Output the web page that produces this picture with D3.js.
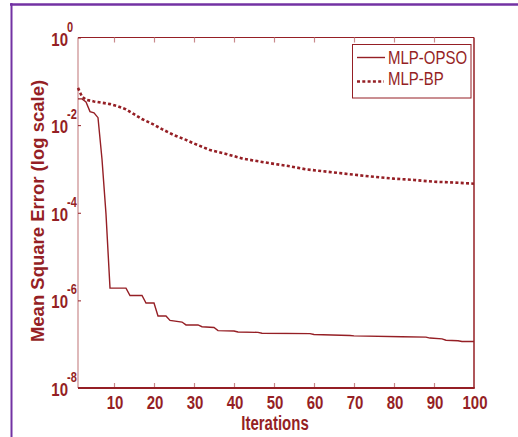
<!DOCTYPE html>
<html>
<head>
<meta charset="utf-8">
<script src="https://cdn.jsdelivr.net/npm/d3@7"></script>
<style>
  body { margin: 0; background: #fff; }
  svg { display: block; }
  text { font-family: "Liberation Sans", Arial, sans-serif; }
</style>
</head>
<body>
<svg id="chart" width="518" height="437"></svg>
<script>
// MLP-OPSO (solid)
var opsoIter = [1, 2, 3, 4, 5, 6, 7, 8, 9, 13, 14, 17, 18, 20, 21, 23, 24, 27, 28, 31, 32, 35, 36, 40,
    41, 46, 47, 59, 60, 69, 70, 82, 88, 89, 92, 93, 96, 97, 100];
var opsoMse = [0.0398, 0.0398, 0.0339, 0.0204, 0.0191, 0.0148, 1.66e-3, 9.3e-5, 1.9e-6, 1.9e-6,
    1.29e-6, 1.29e-6, 8.7e-7, 8.7e-7, 4.4e-7, 4.4e-7, 3.5e-7, 3.2e-7, 2.75e-7, 2.75e-7, 2.5e-7,
    2.4e-7, 2.04e-7, 2.0e-7, 1.9e-7, 1.86e-7, 1.78e-7, 1.74e-7, 1.66e-7, 1.58e-7, 1.55e-7,
    1.48e-7, 1.45e-7, 1.38e-7, 1.32e-7, 1.23e-7, 1.2e-7, 1.15e-7, 1.15e-7];

// MLP-BP (dotted)
var bpIter = [1, 2, 3, 5, 7, 9, 11, 13, 15, 17, 20, 22, 25, 28, 30, 34, 38, 42, 45, 49, 54, 58, 62,
    66, 70, 75, 80, 85, 90, 95, 100];
var bpMse = [0.0708, 0.0447, 0.038, 0.0347, 0.0324, 0.0302, 0.0269, 0.0229, 0.0178, 0.0138, 0.0102,
    8.1e-3, 5.9e-3, 4.6e-3, 3.8e-3, 2.7e-3, 2.2e-3, 1.74e-3, 1.55e-3, 1.35e-3, 1.15e-3, 9.8e-4,
    8.9e-4, 8.1e-4, 7.4e-4, 6.6e-4, 6.0e-4, 5.6e-4, 5.1e-4, 4.9e-4, 4.6e-4];

var xTicks = [10, 20, 30, 40, 50, 60, 70, 80, 90, 100];
var yTicks = [1, 1e-2, 1e-4, 1e-6, 1e-8];
var yTickExp = ["0", "-2", "-4", "-6", "-8"];
var seriesNames = ["MLP-OPSO", "MLP-BP"];

var dark = "#951f25";
var pink = "#c98a8c";
var purple = "#7332a3";

var svg = d3.select("#chart");

// purple frame
svg.append("line").attr("x1", 10).attr("x2", 518).attr("y1", 4.5).attr("y2", 4.5)
    .attr("stroke", purple).attr("stroke-width", 2.5);
svg.append("line").attr("x1", 11.5).attr("x2", 11.5).attr("y1", 3).attr("y2", 437)
    .attr("stroke", purple).attr("stroke-width", 2);

var x = d3.scaleLinear().domain([1, 100]).range([78, 474]);
var y = d3.scaleLog().domain([1e-8, 1]).range([388, 37.5]);

// axis box
svg.append("line").attr("x1", x(1)).attr("x2", x(100)).attr("y1", y(1)).attr("y2", y(1))
    .attr("stroke", dark).attr("stroke-width", 1);
svg.append("line").attr("x1", x(1)).attr("x2", x(1)).attr("y1", y(1)).attr("y2", y(1e-8))
    .attr("stroke", pink).attr("stroke-width", 1.2);
svg.append("line").attr("x1", x(100)).attr("x2", x(100)).attr("y1", y(1)).attr("y2", y(1e-8))
    .attr("stroke", dark).attr("stroke-width", 1.5);

// ticks (inward)
svg.append("g").attr("transform", "translate(0," + y(1e-8) + ")")
    .call(d3.axisBottom(x).tickValues(xTicks.slice(0, 9)).tickSizeInner(-5).tickSizeOuter(0).tickFormat(""))
    .call(function (g) {
        g.select(".domain").remove();
        g.selectAll(".tick line").attr("stroke", pink).attr("stroke-width", 1.2);
    });
svg.append("g").attr("transform", "translate(0," + y(1) + ")")
    .call(d3.axisTop(x).tickValues(xTicks.slice(0, 9)).tickSizeInner(-5).tickSizeOuter(0).tickFormat(""))
    .call(function (g) {
        g.select(".domain").remove();
        g.selectAll(".tick line").attr("stroke", pink).attr("stroke-width", 1.2);
    });
svg.append("g").attr("transform", "translate(" + x(1) + ",0)")
    .call(d3.axisLeft(y).tickValues(yTicks).tickSizeInner(-3).tickSizeOuter(0).tickFormat(""))
    .call(function (g) {
        g.select(".domain").remove();
        g.selectAll(".tick line").attr("stroke", dark).attr("stroke-width", 1);
    });

// bottom axis line (thick)
svg.append("line").attr("x1", x(1)).attr("x2", x(100) + 0.75).attr("y1", y(1e-8)).attr("y2", y(1e-8))
    .attr("stroke", dark).attr("stroke-width", 2);

// x tick labels
svg.selectAll(".xlab").data(xTicks).enter().append("text")
    .attr("class", "xlab")
    .attr("transform", function (d) { return "translate(" + (x(d) + 1) + ",409) scale(1,1.25)"; })
    .attr("text-anchor", "middle")
    .attr("font-size", 15).attr("font-weight", "bold").attr("fill", dark)
    .text(function (d) { return d; });

// y tick labels 10^n
yTicks.forEach(function (v, i) {
    svg.append("text")
        .attr("transform", "translate(68," + (y(v) + 8) + ") scale(1,1.25)")
        .attr("text-anchor", "end")
        .attr("font-size", 15).attr("font-weight", "bold").attr("fill", dark)
        .text("10");
    svg.append("text")
        .attr("transform", "translate(67," + (y(v) - 6) + ") scale(1,1.25)")
        .attr("text-anchor", "start")
        .attr("font-size", 11).attr("font-weight", "bold").attr("fill", dark)
        .text(yTickExp[i]);
});

// axis titles
svg.append("text")
    .attr("transform", "translate(275,430) scale(1,1.35)")
    .attr("text-anchor", "middle")
    .attr("font-size", 15).attr("font-weight", "bold").attr("fill", dark)
    .text("Iterations");
svg.append("text")
    .attr("transform", "translate(44,211) rotate(-90)")
    .attr("text-anchor", "middle")
    .attr("font-size", 18.5).attr("font-weight", "bold").attr("fill", dark)
    .text("Mean Square Error (log scale)");

// series
var line = d3.line()
    .x(function (d) { return x(d[0]); })
    .y(function (d) { return y(d[1]); });

svg.append("path")
    .datum(bpIter.map(function (it, i) { return [it, bpMse[i]]; }))
    .attr("d", line)
    .attr("fill", "none").attr("stroke", dark).attr("stroke-width", 2.6)
    .attr("stroke-dasharray", "3,2.3");

svg.append("path")
    .datum(opsoIter.map(function (it, i) { return [it, opsoMse[i]]; }))
    .attr("d", line)
    .attr("fill", "none").attr("stroke", dark).attr("stroke-width", 1.4);

// legend
var lg = svg.append("g");
lg.append("rect").attr("x", 352.5).attr("y", 44.5).attr("width", 118.5).attr("height", 53.5)
    .attr("fill", "#fff").attr("stroke", dark).attr("stroke-width", 1);
lg.append("line").attr("x1", 357).attr("x2", 385).attr("y1", 57.5).attr("y2", 57.5)
    .attr("stroke", dark).attr("stroke-width", 1.4);
lg.append("line").attr("x1", 357).attr("x2", 384).attr("y1", 81.5).attr("y2", 81.5)
    .attr("stroke", dark).attr("stroke-width", 2.6).attr("stroke-dasharray", "3,2.3");
seriesNames.forEach(function (name, i) {
    lg.append("text")
        .attr("transform", "translate(388," + (64.3 + i * 21) + ") scale(1,1.2)")
        .attr("font-size", 15).attr("fill", dark)
        .text(name);
});
</script>
</body>
</html>
